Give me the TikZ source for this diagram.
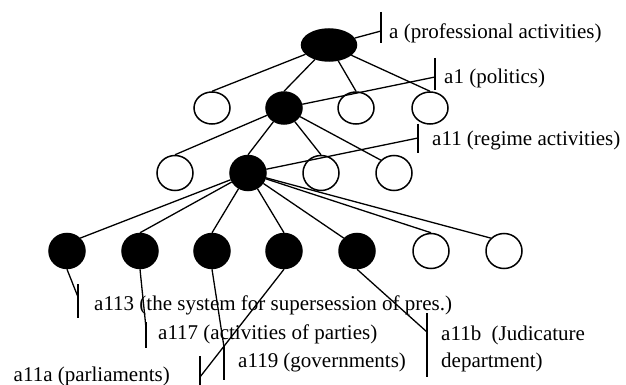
\documentclass[tikz,border=0pt]{standalone}
\usepackage{fontspec}
\setmainfont{Liberation Serif}
\usetikzlibrary{shapes.geometric}
\tikzset{
  topic/.style={
    ellipse,
    draw,
    line width=1.5pt,
    minimum width=36pt,
    minimum height=35pt,
    inner sep=0pt
  },
  topic chosen/.style={
    topic,
    fill=black
  },
}
\tikzstyle{link} = [line width=1.3pt]
\tikzstyle{tick} = [line width=1.5pt]
\tikzstyle{tag} = [font=\fontsize{21}{27}\selectfont, inner sep=0pt, anchor=west]

\begin{document}
\begin{tikzpicture}[x=1pt, y=-1pt]
        \useasboundingbox (0,0) rectangle (626,385);
        % tree
        \node [topic chosen, minimum width=55pt, minimum height=32pt] (a) at (329,45) {};
        \node [topic, minimum height=32pt] (a0) at (212,108) {};
        \node [topic chosen, minimum height=32pt] (a1) at (284,108) {};
        \node [topic, minimum height=32pt] (a2) at (356,108) {};
        \node [topic, minimum height=32pt] (a3) at (430,108) {};
        \node [topic] (a10) at (175,173) {};
        \node [topic chosen] (a11) at (248,173) {};
        \node [topic] (a12) at (321,173) {};
        \node [topic] (a14) at (394,173) {};
        \node [topic chosen] (a113) at (67,251) {};
        \node [topic chosen] (a117) at (140,251) {};
        \node [topic chosen] (a119) at (212,251) {};
        \node [topic chosen] (a11a) at (284,251) {};
        \node [topic chosen] (a11b) at (357,251) {};
        \node [topic] (a11c) at (431,251) {};
        \node [topic] (a11d) at (504,251) {};

        % edges
        \foreach \n in {a0, a1, a2, a3}
          \draw [link] (a) -- (\n.north);
        \foreach \n/\s in {a10/north, a11/north, a12/north, a14/north west}
          \draw [link] (a1) -- (\n.\s);
        \foreach \n/\s in {a113/north east, a117/north, a119/north, a11a/north, a11b/north west, a11c/north, a11d/north west}
          \draw [link] (a11) -- (\n.\s);

        % label bars
        \coordinate (aTop) at (381,12);
        \coordinate (aBot) at (381,43);
        \coordinate (aPin) at (381,31);
        \coordinate (a1Top) at (435,58);
        \coordinate (a1Bot) at (435,90);
        \coordinate (a1Pin) at (435,77);
        \coordinate (a11Top) at (418,124);
        \coordinate (a11Bot) at (418,153);
        \coordinate (a11Pin) at (418,138);
        \coordinate (a113Top) at (78,284);
        \coordinate (a113Bot) at (78,318);
        \coordinate (a113Pin) at (78,297);
        \coordinate (a117Top) at (146,322);
        \coordinate (a117Bot) at (146,348);
        \coordinate (a117Pin) at (146,328);
        \coordinate (a119Top) at (224,346);
        \coordinate (a119Bot) at (224,380);
        \coordinate (a119Pin) at (224,347);
        \coordinate (a11aTop) at (200,356);
        \coordinate (a11aBot) at (200,385);
        \coordinate (a11aPin) at (200,377);
        \coordinate (a11bTop) at (427,313);
        \coordinate (a11bBot) at (427,377);
        \coordinate (a11bPin) at (427,332);
        \foreach \n in {a, a1, a11, a113, a117, a119, a11a, a11b}
          \draw [tick] (\n Top) -- (\n Bot);

        % pointers
        \draw [link] (a) -- (aPin);
        \draw [link] (a1) -- (a1Pin);
        \draw [link] (a11) -- (a11Pin);
        \foreach \n in {a113, a117, a119, a11a, a11b}
          \draw [link] (\n.south) -- (\n Pin);

        % labels
        \node [tag] (aText) at (389,33) {a (professional activities)};
        \node [tag] (a1Text) at (444,78) {a1 (politics)};
        \node [tag] (a11Text) at (432,140) {a11 (regime activities)};
        \node [tag] (a113Text) at (94,305) {a113 (the system for supersession of pres.)};
        \node [tag] (a117Text) at (158,334) {a117 (activities of parties)};
        \node [tag] (a119Text) at (238,362) {a119 (governments)};
        \node [tag, anchor=east] (a11aText) at (170,376) {a11a (parliaments)};
        \node [tag, align=left] (a11bText) at (441,349) {a11b\ \ (Judicature\\department)};
\end{tikzpicture}
\end{document}
